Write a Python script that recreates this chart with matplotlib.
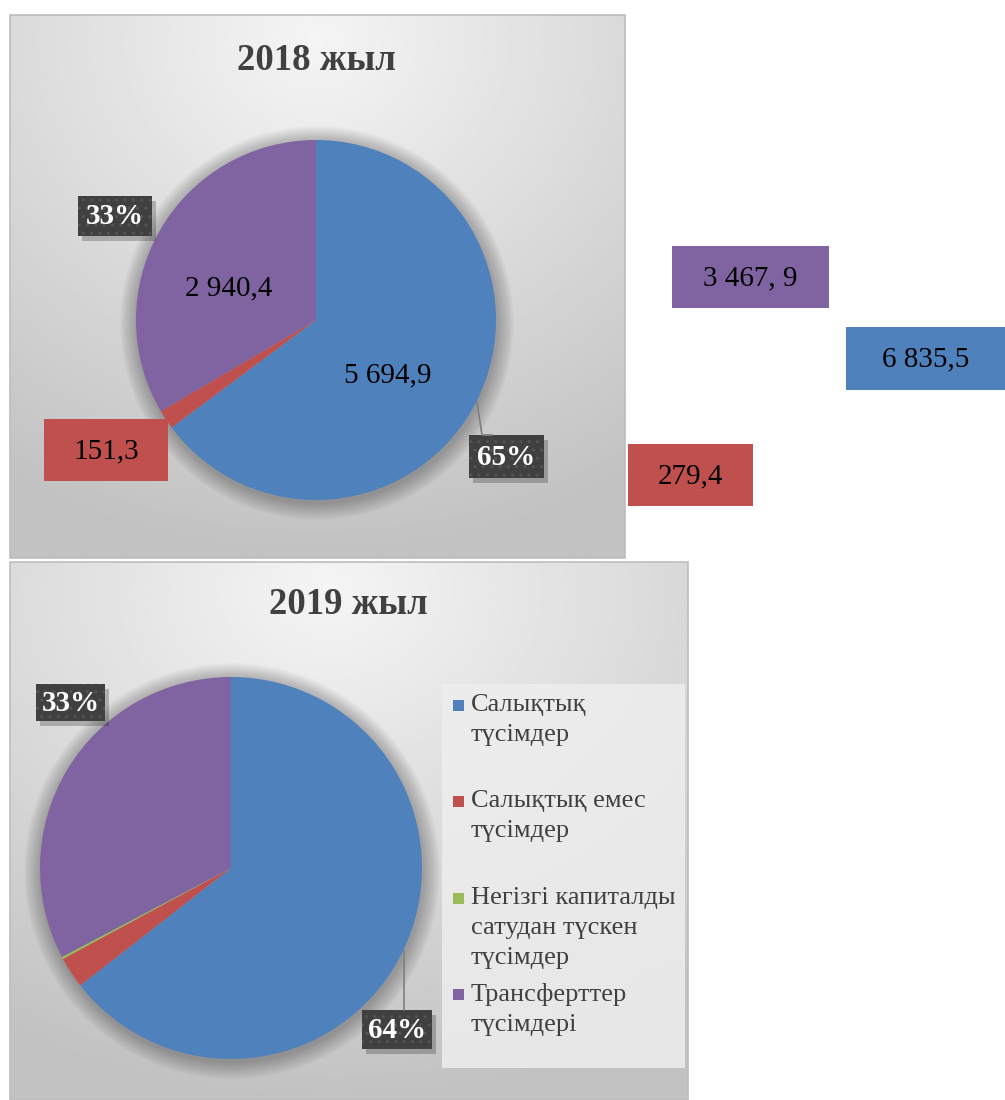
import numpy as np
import matplotlib
matplotlib.use('Agg')
import matplotlib.pyplot as plt
from matplotlib.patches import Rectangle, Circle

W, H = 1005, 1100

categories = ['Салықтық\nтүсімдер', 'Салықтық емес\nтүсімдер',
              'Негізгі капиталды\nсатудан түскен\nтүсімдер', 'Трансферттер\nтүсімдері']
colors = ['#4F81BD', '#C0504D', '#9BBB59', '#8064A2']
values_2018 = [5694.9, 151.3, 0.0, 2940.4]
values_2019 = [6835.5, 279.4, 20.0, 3467.9]
labels_2018 = ['5 694,9', '151,3', '', '2 940,4']
labels_2019 = ['6 835,5', '279,4', '', '3 467, 9']

SERIF = 'Liberation Serif'

fig = plt.figure(figsize=(W / 100, H / 100), dpi=100)
fig.patch.set_facecolor('white')

bg = fig.add_axes([0, 0, 1, 1], zorder=0)
bg.set_xlim(0, W)
bg.set_ylim(H, 0)
bg.axis('off')


def panel_bg(x0, y0, x1, y1, cx, cy):
    xs = np.linspace(x0, x1, 300)
    ys = np.linspace(y0, y1, 300)
    X, Y = np.meshgrid(xs, ys)
    d = np.hypot((X - cx) / (x1 - x0), (Y - cy) / (y1 - y0))
    g = 0.96 - 0.20 * np.clip(d / 0.95, 0, 1)
    bg.imshow(g, cmap='gray', vmin=0, vmax=1, extent=(x0, x1, y1, y0),
              interpolation='bilinear', zorder=0)
    bg.add_patch(Rectangle((x0, y0), x1 - x0, y1 - y0, fc='none', ec='#bdbdbd', lw=1.2, zorder=1))


def halo(cx, cy, r):
    for k in range(1, 18):
        bg.add_patch(Circle((cx + 1, cy + 3), r + k, fc='black', ec='none', alpha=0.014, zorder=2))


panel_bg(10, 15, 625, 558, 316, 40)
panel_bg(10, 562, 688, 1100, 330, 590)
bg.set_aspect('auto')
bg.set_xlim(0, W)
bg.set_ylim(H, 0)

pie_geo = {'2018': (316, 320, 180), '2019': (231, 868, 191)}
for cx, cy, r in pie_geo.values():
    halo(cx, cy, r)


def pie_axes(cx, cy, r, values):
    ax = fig.add_axes([(cx - r) / W, 1 - (cy + r) / H, 2 * r / W, 2 * r / H], zorder=1)
    ax.pie(values, colors=colors, startangle=90, counterclock=False, radius=1,
           wedgeprops=dict(linewidth=0))
    ax.set_xlim(-1, 1)
    ax.set_ylim(-1, 1)
    ax.axis('off')
    return ax


pie_axes(*pie_geo['2018'], values_2018)
pie_axes(*pie_geo['2019'], values_2019)

ov = fig.add_axes([0, 0, 1, 1], zorder=5)
ov.set_xlim(0, W)
ov.set_ylim(H, 0)
ov.axis('off')


def pct(values, i):
    return '{}%'.format(int(round(values[i] / sum(values) * 100)))


def pct_box(x0, y0, x1, y1, text):
    ov.add_patch(Rectangle((x0 + 4, y0 + 5), x1 - x0, y1 - y0, fc='black', ec='none', alpha=0.22))
    ov.add_patch(Rectangle((x0, y0), x1 - x0, y1 - y0, fc='#404040', ec='#545454',
                           lw=0, hatch='..'))
    ov.text((x0 + x1) / 2, (y0 + y1) / 2 + 1, text, color='white', fontsize=21,
            fontweight='bold', family=SERIF, ha='center', va='center')


def value_box(x0, y0, x1, y1, text, color):
    ov.add_patch(Rectangle((x0, y0), x1 - x0, y1 - y0, fc=color, ec='none'))
    ov.text((x0 + x1) / 2, (y0 + y1) / 2 + 1, text, color='black', fontsize=21,
            family=SERIF, ha='center', va='center')


# titles
ov.text(316, 60, '2018 жыл', fontsize=26.5, fontweight='bold', family=SERIF,
        color='#404040', ha='center', va='center')
ov.text(348, 605, '2019 жыл', fontsize=26.5, fontweight='bold', family=SERIF,
        color='#404040', ha='center', va='center')

# 2018 labels
ov.text(388, 375, labels_2018[0], fontsize=21, family=SERIF, ha='center', va='center')
ov.text(229, 288, labels_2018[3], fontsize=21, family=SERIF, ha='center', va='center')
value_box(44, 419, 168, 481, labels_2018[1], colors[1])
ov.plot([477, 482, 492], [402, 435, 435], color='#7f7f7f', lw=1.2)
pct_box(469, 435, 544, 478, pct(values_2018, 0))
pct_box(78, 196, 152, 236, pct(values_2018, 3))

# 2019 values, floating at the right
value_box(672, 246, 829, 308, labels_2019[3], colors[3])
value_box(846, 327, 1005, 390, labels_2019[0], colors[0])
value_box(628, 444, 753, 506, labels_2019[1], colors[1])

# 2019 percentages
ov.plot([404, 404], [951, 1010], color='#7f7f7f', lw=1.2)
pct_box(362, 1010, 432, 1049, pct(values_2019, 0))
pct_box(36, 684, 105, 721, pct(values_2019, 3))

# legend
ov.add_patch(Rectangle((442, 684), 685 - 442, 1068 - 684, fc='#eeeeee', ec='none', alpha=0.85))
first_line_y = [704, 800, 897, 993]
for lab, col, y in zip(categories, colors, first_line_y):
    ov.add_patch(Rectangle((453, y - 4), 11, 11, fc=col, ec='none'))
    ov.text(471, y - 10, lab, fontsize=19, family=SERIF, color='#404040',
            ha='left', va='top', linespacing=1.47)

fig.savefig('out.png', dpi=100)
